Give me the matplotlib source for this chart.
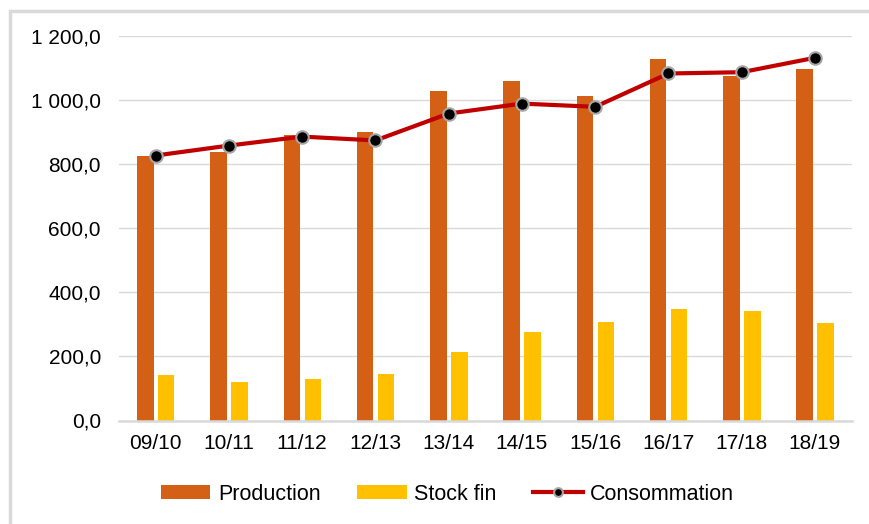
import numpy as np
import matplotlib
matplotlib.use("Agg")
import matplotlib.pyplot as plt
from matplotlib.ticker import FuncFormatter
from matplotlib.patches import Rectangle

plt.rcParams['font.family'] = ['Liberation Sans', 'DejaVu Sans']

# data
campagnes = ["09/10", "10/11", "11/12", "12/13", "13/14",
             "14/15", "15/16", "16/17", "17/18", "18/19"]
production = [824, 837, 890, 899, 1027, 1059, 1014, 1127, 1074, 1098]
stock_fin = [142, 120, 130, 145, 214, 277, 308, 348, 342, 305]
consommation = [827, 858, 886, 874, 958, 989, 979, 1083, 1087, 1132]

c_prod = "#D46015"
c_stock = "#FFC000"
c_conso = "#C00000"
c_grid = "#D9D9D9"

fig = plt.figure(figsize=(8.69, 5.24), dpi=100)
ax = fig.add_axes([119 / 869, 1 - 420.5 / 524, (851.6 - 119) / 869, (420.5 - 36) / 524])

x = np.arange(len(campagnes))
b1 = ax.bar(x - 0.14, production, width=0.225, color=c_prod, label="Production", zorder=2)
b2 = ax.bar(x + 0.145, stock_fin, width=0.225, color=c_stock, label="Stock fin", zorder=2)
l1, = ax.plot(x, consommation, color=c_conso, lw=3, marker="o", ms=9,
              mfc="black", mec="#A6A6A6", mew=1.5, label="Consommation", zorder=3)

ax.set_xlim(-0.5, len(campagnes) - 0.5)
ax.set_ylim(0, 1200)
ax.set_yticks(np.arange(0, 1201, 200))
ax.yaxis.set_major_formatter(FuncFormatter(
    lambda v, p: "{:,.1f}".format(v).replace(",", " ").replace(".", ",")))
ax.set_xticks(x)
ax.set_xticklabels(campagnes)

ax.grid(axis="y", color=c_grid, lw=1, zorder=0)
for s in ["top", "right", "left"]:
    ax.spines[s].set_visible(False)
ax.spines["bottom"].set_color(c_grid)
ax.spines["bottom"].set_linewidth(1.8)
ax.tick_params(axis="both", length=0, labelsize=15, colors="black")
ax.tick_params(axis="y", pad=13)
ax.tick_params(axis="x", pad=10)

leg = fig.legend([b1, b2, l1], ["Production", "Stock fin", "Consommation"],
                 loc="center", bbox_to_anchor=(447.5 / 869, 1 - 494 / 524), ncol=3,
                 frameon=False, fontsize=15.5, handlelength=2.3, handleheight=0.6,
                 handletextpad=0.35, columnspacing=1.7, markerscale=0.7)

# chart frame (cropped on right/bottom in the original)
fig.patches.append(Rectangle((10 / 869, -0.1), 1.2, 1 - 11 / 524 + 0.1,
                             transform=fig.transFigure, fill=False,
                             ec=c_grid, lw=2.5))

fig.savefig("out.png", dpi=100)
